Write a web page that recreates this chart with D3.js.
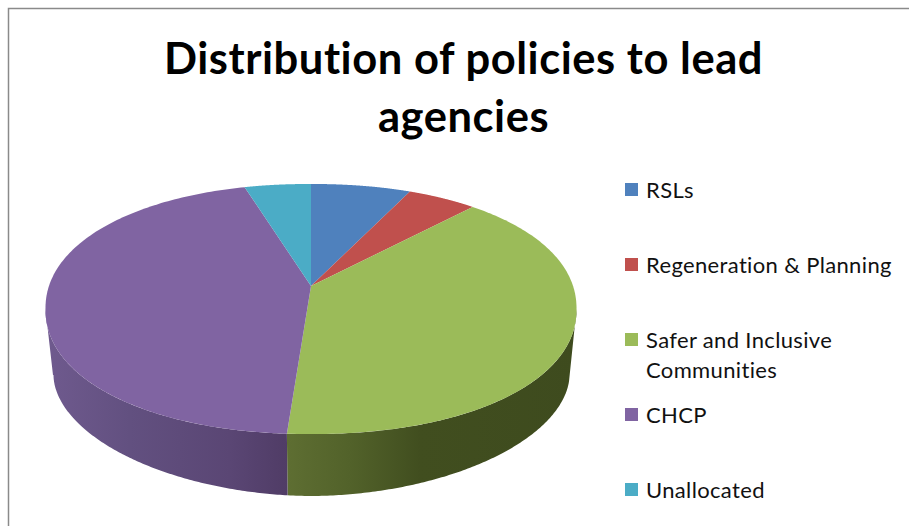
<!DOCTYPE html>
<html>
<head>
<meta charset="utf-8">
<script src="https://cdn.jsdelivr.net/npm/d3@7/dist/d3.min.js"></script>
<style>
html, body { margin: 0; padding: 0; background: #fff; }
svg { display: block; }
text { font-variant-ligatures: none; }
</style>
</head>
<body>
<svg id="chart" width="909" height="526"></svg>
<script>
const titleLines = ["Distribution of policies to lead", "agencies"];
const categories = ["RSLs", "Regeneration & Planning", "Safer and Inclusive Communities", "CHCP", "Unallocated"];
const shares = [7.2, 4.9, 39.1, 44.0, 4.8];
const colors = ["#4f81bd", "#c0504d", "#9bbb59", "#8064a2", "#4bacc6"];
const legendLines = [["RSLs"], ["Regeneration & Planning"], ["Safer and Inclusive", "Communities"], ["CHCP"], ["Unallocated"]];

const svg = d3.select("#chart");
const W = 909, H = 526;

// Chart frame
svg.append("rect").attr("x", 8.5).attr("y", 8.5).attr("width", W).attr("height", H)
  .attr("fill", "#fff").attr("stroke", "#8a8a8a").attr("stroke-width", 1.5);

// Title
svg.append("g").selectAll("text").data(titleLines).join("text")
  .attr("x", 463.5).attr("y", (d, i) => 74 + i * 58)
  .attr("text-anchor", "middle")
  .attr("font-family", "Lato, sans-serif").attr("font-weight", 700).attr("font-size", 43.5)
  .attr("letter-spacing", 0.55)
  .attr("fill", "#000").text(d => d);

// Tilted disc: a circle seen in perspective, nearer edge larger
const apex = [311, 286], R = 261, B = 120.8, K = 0.184;
const disc = { cx: 311.5, cy: 309, rx: 265.5, ry: 125, n: 2.12 };
const base = { cx: 311.5, cy: 375, rx: 258, ry: 121, n: 1.9 };

// Radial factor that rounds a unit circle into a superellipse of exponent n
const squircle = (c, s, n) => Math.pow(Math.pow(Math.abs(c), n) + Math.pow(Math.abs(s), n), -1 / n);

const project = theta => {
  const u = Math.sin(theta), v = -Math.cos(theta);
  const w = 1 - K * v;
  const p = (R * u / w + apex[0] - disc.cx) / disc.rx;
  const q = (B * v / w + apex[1] - disc.cy) / disc.ry;
  const len = Math.hypot(p, q) || 1;
  const f = squircle(p / len, q / len, disc.n);
  return [disc.cx + disc.rx * p * f, disc.cy + disc.ry * q * f];
};

// Lower edge of the rim, directly beneath a point of the upper edge
const below = ([px]) => {
  const t = Math.min(1, Math.abs(px - disc.cx) / disc.rx);
  const y = Math.pow(1 - Math.pow(t, base.n), 1 / base.n);
  return [base.cx + (px - disc.cx) * base.rx / disc.rx, base.cy + base.ry * y];
};

const line = d3.line();
const arcAngles = (a0, a1) => d3.range(0, 161).map(i => a0 + (a1 - a0) * i / 160);

const pie = d3.pie().sort(null).value(d => d);
const slices = pie(shares);

// Horizontal shading of the rim
const defs = svg.append("defs");
const x = d3.scaleLinear().domain([46, 577]).range([0, 100]);
const rimStops = {
  2: [[287, "#5e6e32"], [350, "#52622a"], [420, "#414e1f"], [577, "#3e4b1e"]],
  3: [[46, "#6f5a8e"], [130, "#625080"], [230, "#5a4674"], [287, "#503c66"]]
};
Object.entries(rimStops).forEach(([i, stops]) => {
  const g = defs.append("linearGradient").attr("id", "rim" + i)
    .attr("gradientUnits", "userSpaceOnUse")
    .attr("x1", 46).attr("x2", 577).attr("y1", 0).attr("y2", 0);
  g.selectAll("stop").data(stops).join("stop")
    .attr("offset", d => x(d[0]) + "%").attr("stop-color", d => d[1]);
});

// Rim of the slices facing the viewer, between the disc's widest points
const frontStart = Math.acos(-K), frontEnd = 2 * Math.PI - frontStart;
const rim = svg.append("g");
slices.forEach((s, i) => {
  const a0 = Math.max(s.startAngle, frontStart), a1 = Math.min(s.endAngle, frontEnd);
  if (a1 <= a0) return;
  const upper = arcAngles(a0, a1).map(project);
  const pts = upper.concat(upper.slice().reverse().map(below));
  rim.append("path").attr("d", line(pts) + "Z")
    .attr("fill", rimStops[i] ? `url(#rim${i})` : colors[i]);
});

// Top face
svg.append("g").selectAll("path").data(slices).join("path")
  .attr("d", s => line([apex].concat(arcAngles(s.startAngle, s.endAngle).map(project))) + "Z")
  .attr("fill", (s, i) => colors[i]);

// Legend
const legendY = d3.scalePoint().domain(categories).range([191, 491]);
const legend = svg.append("g").selectAll("g").data(categories).join("g")
  .attr("transform", d => `translate(625,${legendY(d)})`);
legend.append("rect").attr("x", 0).attr("y", -8).attr("width", 13).attr("height", 13)
  .attr("fill", (d, i) => colors[i]);
legend.each(function (d, i) {
  d3.select(this).selectAll("text").data(legendLines[i]).join("text")
    .attr("x", 21).attr("y", (t, j) => 7 + j * 30)
    .attr("font-family", "Lato, sans-serif").attr("font-size", 22)
    .attr("letter-spacing", 0.35)
    .attr("fill", "#111").text(t => t);
});
</script>
</body>
</html>
